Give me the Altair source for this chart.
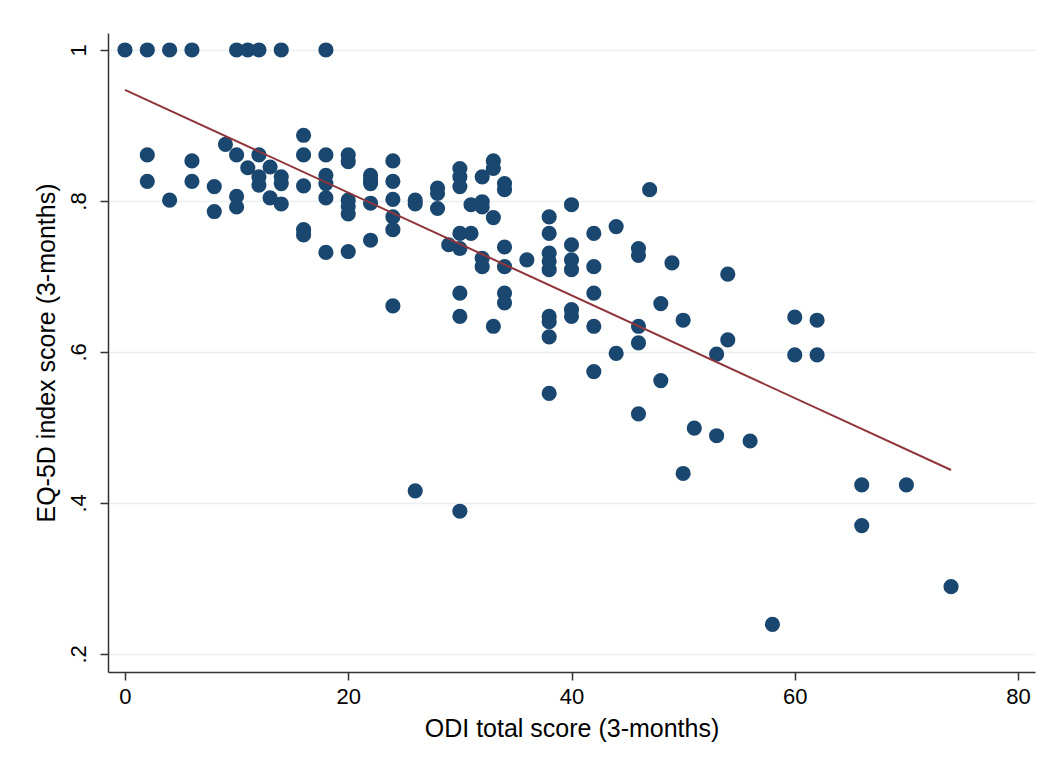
import altair as alt
import pandas as pd

# ODI total score (3-months) and EQ-5D index score (3-months)
odi = [
    0,
    2, 2, 2,
    4, 4,
    6, 6, 6,
    8, 8,
    9,
    10, 10, 10, 10,
    11, 11,
    12, 12, 12, 12,
    13, 13,
    14, 14, 14, 14,
    16, 16, 16, 16, 16,
    18, 18, 18, 18, 18, 18,
    20, 20, 20, 20, 20, 20,
    22, 22, 22, 22, 22,
    24, 24, 24, 24, 24, 24,
    26, 26, 26,
    28, 28, 28,
    29,
    30, 30, 30, 30, 30, 30, 30, 30,
    31, 31,
    32, 32, 32, 32, 32,
    33, 33, 33, 33,
    34, 34, 34, 34, 34, 34,
    36,
    38, 38, 38, 38, 38, 38, 38, 38, 38,
    40, 40, 40, 40, 40, 40,
    42, 42, 42, 42, 42,
    44, 44,
    46, 46, 46, 46, 46,
    47,
    48, 48,
    49,
    50, 50,
    51,
    53, 53,
    54, 54,
    56,
    58,
    60, 60,
    62, 62,
    66, 66,
    70,
    74,
]
eq5d = [
    1.0,
    1.0, .861, .826,
    1.0, .801,
    1.0, .853, .826,
    .819, .786,
    .875,
    1.0, .861, .806, .792,
    1.0, .844,
    1.0, .861, .832, .821,
    .845, .804,
    1.0, .832, .823, .796,
    .887, .861, .820, .762, .755,
    1.0, .861, .834, .823, .804, .732,
    .861, .852, .801, .793, .783, .733,
    .834, .828, .823, .797, .748,
    .853, .826, .802, .779, .762, .661,
    .801, .796, .416,
    .817, .810, .790,
    .742,
    .843, .832, .819, .757, .737, .678, .647, .389,
    .795, .757,
    .832, .799, .792, .724, .713,
    .853, .843, .778, .634,
    .823, .815, .739, .713, .678, .665,
    .722,
    .779, .757, .731, .720, .709, .647, .640, .620, .545,
    .795, .742, .722, .709, .656, .647,
    .757, .713, .678, .634, .574,
    .766, .598,
    .737, .728, .634, .612, .518,
    .815,
    .664, .562,
    .718,
    .642, .439,
    .499,
    .597, .489,
    .703, .616,
    .482,
    .239,
    .646, .596,
    .642, .596,
    .424, .370,
    .424,
    .289,
]

x_ticks = [0, 20, 40, 60, 80]
y_ticks = [0.2, 0.4, 0.6, 0.8, 1.0]

df = pd.DataFrame({"odi": odi, "eq5d": eq5d})

FONT = "Liberation Sans, Arial, sans-serif"
NAVY = "#1a476f"
MAROON = "#90353b"

x_enc = alt.X(
    "odi:Q",
    scale=alt.Scale(domain=[-1.52, 81.52], nice=False, zero=False),
    axis=alt.Axis(
        values=x_ticks,
        title="ODI total score (3-months)",
        grid=False,
        format="d",
        labelPadding=6,
        titlePadding=9,
    ),
)
y_scale = alt.Scale(domain=[0.176, 1.0225], nice=False, zero=False)

points = alt.Chart(df).mark_circle(size=230, opacity=1, color=NAVY).encode(
    x=x_enc,
    y=alt.Y(
        "eq5d:Q",
        scale=y_scale,
        axis=alt.Axis(
            values=y_ticks,
            title="EQ-5D index score (3-months)",
            grid=True,
            labelAngle=270,
            labelAlign="center",
            labelBaseline="bottom",
            labelPadding=10,
            titlePadding=8,
            labelExpr="datum.value == 1 ? '1' : substring(format(datum.value, '.1f'), 1)",
        ),
    ),
)

fit = (
    alt.Chart(df)
    .transform_regression("odi", "eq5d", extent=[0, 74])
    .mark_line(color=MAROON, strokeWidth=2)
    .encode(x="odi:Q", y=alt.Y("eq5d:Q", scale=y_scale))
)

chart = (
    alt.layer(points, fit)
    .properties(
        width=927,
        height=639,
        autosize=alt.AutoSizeParams(type="none"),
        padding={"left": 100, "top": 25, "right": 8, "bottom": 90},
        background="white",
    )
    .configure_view(stroke=None)
    .configure_axis(
        labelFont=FONT,
        titleFont=FONT,
        labelFontSize=22,
        titleFontSize=25,
        titleFontWeight="normal",
        labelColor="#000000",
        titleColor="#000000",
        domainColor="#333333",
        domainWidth=1.5,
        tickColor="#333333",
        tickWidth=1.5,
        tickSize=8,
        gridColor="#e8f0f2",
        gridWidth=1.5,
    )
)

chart.save("out.html", embed_options={"renderer": "svg", "actions": False})
